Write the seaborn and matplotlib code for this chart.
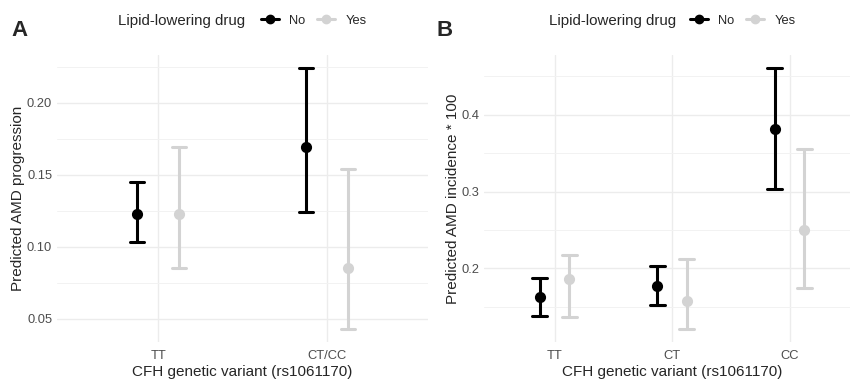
import numpy as np
import pandas as pd
import seaborn as sns
import matplotlib.pyplot as plt
from matplotlib import ticker
from matplotlib.lines import Line2D

# panel A: AMD progression by CFH variant
variants_a = ["TT", "CT/CC"]
a_no_est = [0.123, 0.169]
a_no_lo = [0.103, 0.124]
a_no_hi = [0.145, 0.224]
a_yes_est = [0.123, 0.085]
a_yes_lo = [0.085, 0.043]
a_yes_hi = [0.169, 0.154]

# panel B: AMD incidence * 100
variants_b = ["TT", "CT", "CC"]
b_no_est = [0.163, 0.177, 0.382]
b_no_lo = [0.138, 0.152, 0.303]
b_no_hi = [0.188, 0.203, 0.461]
b_yes_est = [0.186, 0.158, 0.250]
b_yes_lo = [0.136, 0.121, 0.174]
b_yes_hi = [0.218, 0.212, 0.356]

drugs = ["No", "Yes"]
pal = {"No": "black", "Yes": "#d3d3d3"}


def long_table(variants, no, yes):
    # lower / estimate / upper as three rows -> median + full range gives the CI
    rows = []
    for drug, (est, lo, hi) in zip(drugs, [no, yes]):
        for v, e, l, h in zip(variants, est, lo, hi):
            for val in (l, e, h):
                rows.append({"variant": v, "drug": drug, "value": val})
    return pd.DataFrame(rows)


df_a = long_table(variants_a, (a_no_est, a_no_lo, a_no_hi), (a_yes_est, a_yes_lo, a_yes_hi))
df_b = long_table(variants_b, (b_no_est, b_no_lo, b_no_hi), (b_yes_est, b_yes_lo, b_yes_hi))

sns.set_theme(style="white")
plt.rcParams["font.family"] = ["Liberation Sans", "DejaVu Sans"]

fig = plt.figure(figsize=(8.5, 3.79), dpi=100)
W, H = 850, 379
axA = fig.add_axes([57 / W, 37 / H, 371 / W, 287 / H])
axB = fig.add_axes([484 / W, 37 / H, 376 / W, 287 / H])


def draw(ax, df, variants, capsize, ylabel, major, fmt):
    sns.pointplot(data=df, x="variant", y="value", hue="drug", order=variants,
                  hue_order=drugs, palette=pal, estimator="median",
                  errorbar=("pi", 100), dodge=0.25, linestyle="none",
                  capsize=capsize, err_kws={"linewidth": 2.2},
                  marker="o", markersize=6, legend=False, ax=ax)
    ax.set_xlim(-0.6, len(variants) - 1 + 0.6)
    lo, hi = df["value"].min(), df["value"].max()
    pad = (hi - lo) * 0.05
    ax.set_ylim(lo - pad, hi + pad)
    ax.yaxis.set_major_locator(ticker.MultipleLocator(major))
    ax.yaxis.set_minor_locator(ticker.MultipleLocator(major / 2))
    ax.yaxis.set_major_formatter(ticker.FormatStrFormatter(fmt))
    ax.grid(which="major", color="#ececec", linewidth=1.0)
    ax.grid(which="minor", axis="y", color="#f2f2f2", linewidth=0.7)
    ax.set_axisbelow(True)
    for s in ax.spines.values():
        s.set_visible(False)
    ax.tick_params(which="both", length=0, labelsize=9.3, labelcolor="#4d4d4d")
    ax.tick_params(axis="x", pad=6)
    ax.set_xlabel("CFH genetic variant (rs1061170)", fontsize=11, labelpad=2)
    ax.set_ylabel(ylabel, fontsize=11, labelpad=1)


draw(axA, df_a, variants_a, 0.085, "Predicted AMD progression", 0.05, "%.2f")
draw(axB, df_b, variants_b, 0.125, "Predicted AMD incidence * 100", 0.1, "%.1f")

# panel letters and legends
for x0, letter, tx, lx in [(11, "A", 118, 261), (436, "B", 549, 690)]:
    fig.text(x0 / W, 1 - 30 / H, letter, fontsize=16, fontweight="bold", va="center")
    fig.text(tx / W, 1 - 21 / H, "Lipid-lowering drug", fontsize=10.8, va="center")
    handles = [Line2D([], [], color=pal[d], marker="o", markersize=6, linewidth=2.2)
               for d in drugs]
    fig.legend(handles, drugs, loc="center left", bbox_to_anchor=(lx / W, 1 - 21 / H),
               ncol=2, frameon=False, fontsize=9.3, handlelength=1.4,
               handletextpad=0.8, columnspacing=0.9, borderpad=0, borderaxespad=0)

fig.savefig("out.png", dpi=100)
